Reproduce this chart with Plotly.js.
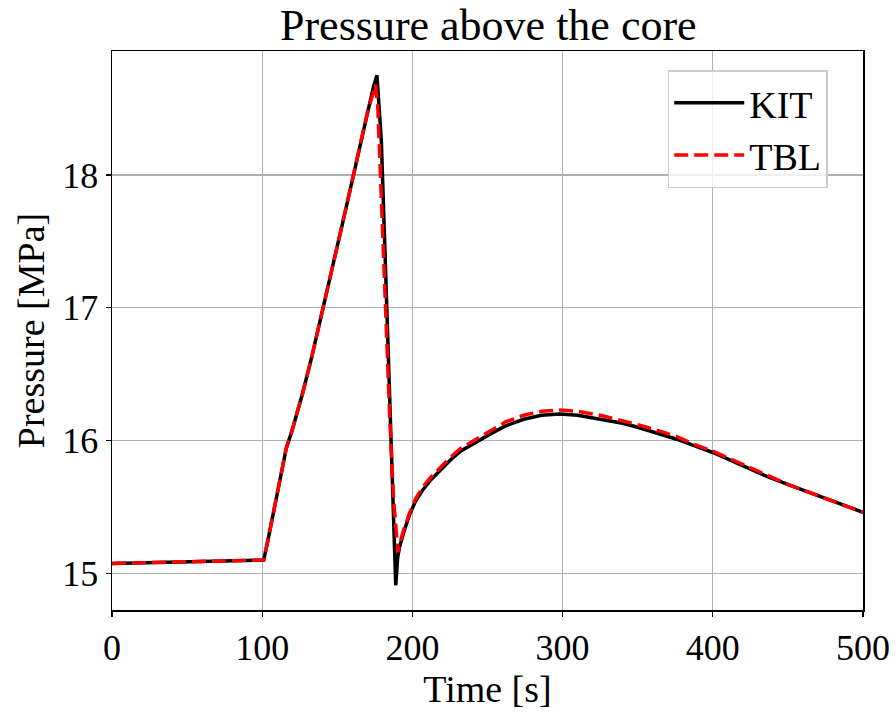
<!DOCTYPE html>
<html>
<head>
<meta charset="utf-8">
<script src="https://cdn.plot.ly/plotly-3.0.1.min.js"></script>
<style>html,body{margin:0;padding:0;background:#fff;}#chart{width:896px;height:713px;}</style>
</head>
<body>
<div id="chart"></div>
<script>
const kitTime = [0, 50, 100, 101, 104, 108, 112, 116, 120, 127, 133, 138, 142, 149, 155, 160, 165, 170, 174, 176.4, 178, 179.3, 181.5, 183.5, 185.5, 187.5, 188.9, 190.2, 191.5, 194, 198, 202, 207, 212, 218, 225, 232, 238, 245, 252, 262, 274, 286, 298, 310, 325, 340, 350, 362, 376, 388, 400, 418, 436, 452, 469, 485, 500];
const kitPressure = [15.075, 15.085, 15.095, 15.10, 15.26, 15.49, 15.74, 15.94, 16.08, 16.36, 16.63, 16.87, 17.08, 17.42, 17.71, 17.96, 18.21, 18.47, 18.66, 18.75, 18.52, 18.26, 17.51, 16.80, 16.10, 15.40, 14.91, 15.12, 15.20, 15.30, 15.44, 15.54, 15.63, 15.70, 15.77, 15.85, 15.92, 15.96, 16.01, 16.05, 16.11, 16.16, 16.19, 16.20, 16.19, 16.16, 16.13, 16.10, 16.06, 16.01, 15.96, 15.91, 15.82, 15.73, 15.66, 15.59, 15.52, 15.46];
const tblTime = [0, 50, 100, 101, 104, 108, 112, 116, 120, 127, 133, 138, 142, 149, 155, 160, 165, 170, 174, 175.5, 177, 180, 182.5, 185, 187.5, 189.5, 190.4, 191.5, 194, 198, 202, 207, 212, 218, 225, 232, 238, 245, 252, 262, 274, 286, 298, 310, 325, 340, 350, 362, 376, 388, 400, 418, 436, 452, 469, 485, 500];
const tblPressure = [15.075, 15.085, 15.095, 15.10, 15.26, 15.49, 15.74, 15.94, 16.08, 16.36, 16.63, 16.87, 17.08, 17.42, 17.71, 17.96, 18.21, 18.47, 18.62, 18.68, 18.50, 17.60, 16.90, 16.15, 15.55, 15.22, 15.16, 15.22, 15.32, 15.45, 15.56, 15.65, 15.72, 15.79, 15.87, 15.94, 15.98, 16.03, 16.08, 16.14, 16.19, 16.22, 16.23, 16.22, 16.19, 16.15, 16.12, 16.08, 16.03, 15.97, 15.92, 15.83, 15.74, 15.66, 15.59, 15.52, 15.46];
const seriesNames = ["KIT", "TBL"];
const xTicks = [0, 100, 200, 300, 400, 500];
const yTicks = [15, 16, 17, 18];

const serif = "Liberation Serif, Times New Roman, serif";
const traces = [
  {x: kitTime, y: kitPressure, name: seriesNames[0], mode: "lines",
   line: {color: "#000000", width: 3.5}},
  {x: tblTime, y: tblPressure, name: seriesNames[1], mode: "lines",
   line: {color: "#ff0000", width: 3.5, dash: "14px,6px"}}
];
const axisCommon = {
  showline: true, mirror: true, linecolor: "#000", linewidth: 1.5,
  showgrid: true, gridcolor: "#b0b0b0", gridwidth: 1.2,
  ticks: "outside", ticklen: 5, tickwidth: 1.2, tickcolor: "#000",
  zeroline: false, tickfont: {family: serif, size: 36, color: "#000"}
};
const layout = {
  width: 896, height: 713,
  margin: {l: 112, r: 33, t: 51, b: 103},
  paper_bgcolor: "#fff", plot_bgcolor: "#fff",
  title: {text: "Pressure above the core", font: {family: serif, size: 44, color: "#000"},
          x: 0.545, xanchor: "center", y: 0.965, yanchor: "middle"},
  xaxis: Object.assign({}, axisCommon, {
    range: [0, 500], tickvals: xTicks, ticktext: xTicks.map(String),
    title: {text: "Time [s]", font: {family: serif, size: 38, color: "#000"}, standoff: 6}
  }),
  yaxis: Object.assign({}, axisCommon, {
    range: [14.724, 18.933], tickvals: yTicks, ticktext: yTicks.map(String),
    title: {text: "Pressure [MPa]", font: {family: serif, size: 38, color: "#000"}, standoff: 6}
  }),
  showlegend: true,
  legend: {x: 0.74, y: 0.966, xanchor: "left", yanchor: "top",
           bgcolor: "rgba(255,255,255,0.8)", bordercolor: "#cccccc", borderwidth: 1.5,
           font: {family: serif, size: 38, color: "#000"}, itemwidth: 70,
           tracegroupgap: 0}
};
Plotly.newPlot("chart", traces, layout, {displayModeBar: false, staticPlot: true});
</script>
</body>
</html>
